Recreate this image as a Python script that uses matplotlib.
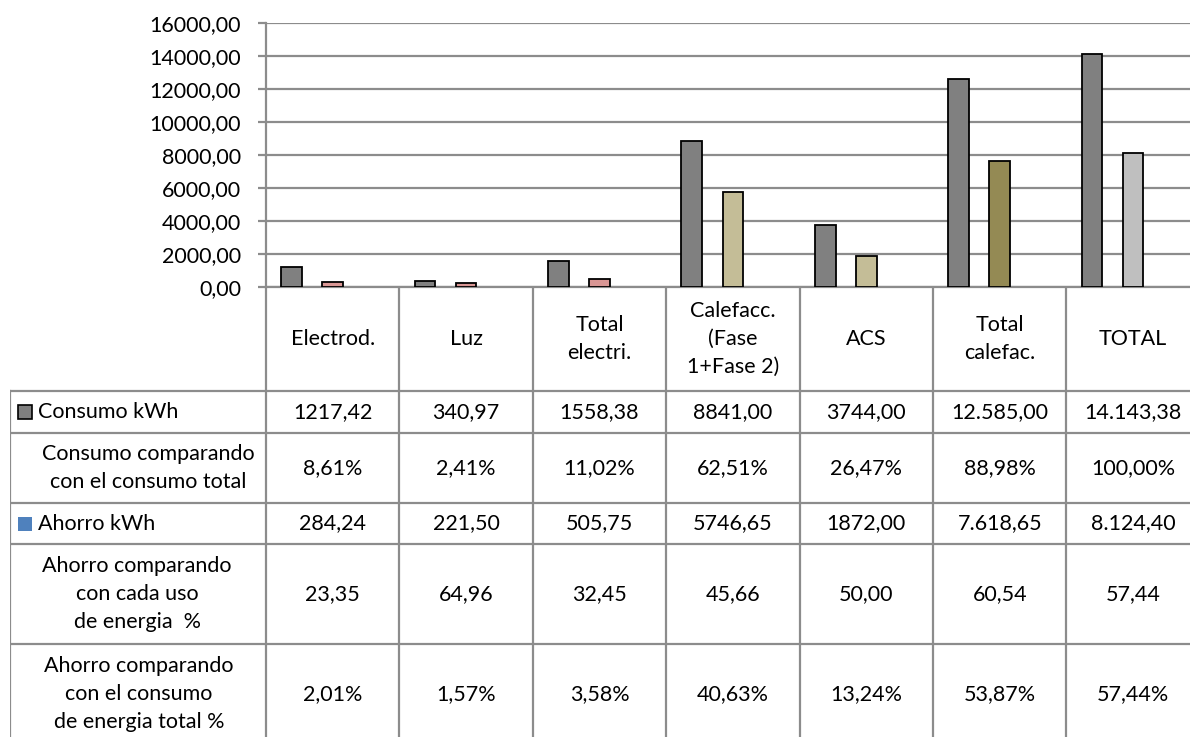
import matplotlib.pyplot as plt

# Consumo y ahorro energético por uso (kWh)
categorias = ["Electrod.", "Luz", "Total\nelectri.", "Calefacc.\n(Fase\n1+Fase 2)",
              "ACS", "Total\ncalefac.", "TOTAL"]
consumo_txt = ["1217,42", "340,97", "1558,38", "8841,00", "3744,00", "12.585,00", "14.143,38"]
consumo_pct = ["8,61%", "2,41%", "11,02%", "62,51%", "26,47%", "88,98%", "100,00%"]
ahorro_txt = ["284,24", "221,50", "505,75", "5746,65", "1872,00", "7.618,65", "8.124,40"]
ahorro_uso_pct = ["23,35", "64,96", "32,45", "45,66", "50,00", "60,54", "57,44"]
ahorro_total_pct = ["2,01%", "1,57%", "3,58%", "40,63%", "13,24%", "53,87%", "57,44%"]

filas = ["Consumo kWh",
         "Consumo comparando\ncon el consumo total",
         "Ahorro kWh",
         "Ahorro comparando\ncon cada uso\nde energia  %",
         "Ahorro comparando\ncon el consumo\nde energia total %"]

yticks = [0, 2000, 4000, 6000, 8000, 10000, 12000, 14000, 16000]


def a_numero(s):
    # "12.585,00" -> 12585.0
    return float(s.replace(".", "").replace(",", "."))


consumo = [a_numero(s) for s in consumo_txt]
ahorro = [a_numero(s) for s in ahorro_txt]

# colores
GRIS = "#808080"
col_ahorro = ["#D99694", "#D99694", "#D99694", "#C4BD97", "#C4BD97", "#948A54", "#BFBFBF"]
AZUL = "#4F81BD"
LINEA = "#8C8C8C"

plt.rcParams["font.family"] = ["Lato", "DejaVu Sans"]
FS = 15.5
LS = 1.5

W, H = 1190, 737
fig = plt.figure(figsize=(W / 100, H / 100), dpi=100)


def px_axes(x0, y0, x1, y1):
    return fig.add_axes([x0 / W, 1 - y1 / H, (x1 - x0) / W, (y1 - y0) / H])


# geometría en píxeles
X0, COL_W = 266, 133.4
Y_TOP, Y_ZERO = 23, 287
X_RIGHT = X0 + COL_W * len(categorias)
ALTOS = [104, 42, 70, 41, 100, 100]
bordes = [Y_ZERO]
for h in ALTOS:
    bordes.append(bordes[-1] + h)


def px2x(px):
    return -0.5 + (px - X0) / COL_W


# --- gráfico de columnas ---
ax = px_axes(X0, Y_TOP, X_RIGHT, Y_ZERO)
x = list(range(len(categorias)))
ax.bar([i - 0.308 for i in x], consumo, width=0.155, color=GRIS,
       edgecolor="black", linewidth=1.3, zorder=3)
ax.bar(x, ahorro, width=0.155, color=col_ahorro,
       edgecolor="black", linewidth=1.3, zorder=3)
ax.set_xlim(-0.5, len(categorias) - 0.5)
ax.set_ylim(0, 16000)
ax.set_yticks(yticks)
ax.set_yticklabels([f"{v},00" for v in yticks], fontsize=FS)
ax.yaxis.grid(True, color=LINEA, linewidth=1.6, zorder=0)
ax.set_xticks([])
for s in ["top", "right"]:
    ax.spines[s].set_visible(False)
for s in ["left", "bottom"]:
    ax.spines[s].set_color(LINEA)
    ax.spines[s].set_linewidth(1.6)
ax.tick_params(axis="y", length=6, width=1.6, color=LINEA, pad=12)

# --- tabla de datos ---
tb = px_axes(10, Y_ZERO, X_RIGHT, bordes[-1])
tb.set_xlim(px2x(10), len(categorias) - 0.5)
tb.set_ylim(bordes[-1], Y_ZERO)
tb.axis("off")

for k in range(len(categorias) + 1):
    tb.plot([k - 0.5, k - 0.5], [Y_ZERO, bordes[-1]], color=LINEA, lw=1.6)
tb.plot([px2x(10), px2x(10)], [bordes[1], bordes[-1]], color=LINEA, lw=1.6)
for b in bordes[1:]:
    tb.plot([px2x(10), len(categorias) - 0.5], [b, b], color=LINEA, lw=1.6)

centros = [(bordes[i] + bordes[i + 1]) / 2 for i in range(len(ALTOS))]

for i, c in enumerate(categorias):
    tb.text(i, centros[0], c, ha="center", va="center", fontsize=FS, linespacing=LS)

valores = [consumo_txt, consumo_pct, ahorro_txt, ahorro_uso_pct, ahorro_total_pct]
for r, fila in enumerate(valores):
    for i, v in enumerate(fila):
        tb.text(i, centros[r + 1], v, ha="center", va="center", fontsize=FS)

# encabezados de fila con clave de leyenda
tb.plot([px2x(25)], [centros[1]], marker="s", ms=10, mfc=GRIS, mec="black", mew=1.2)
tb.text(px2x(38), centros[1], filas[0], ha="left", va="center", fontsize=FS)
tb.text(px2x(148), centros[2], filas[1], ha="center", va="center", fontsize=FS, linespacing=LS)
tb.plot([px2x(25)], [centros[3]], marker="s", ms=10, mfc=AZUL, mec=AZUL, mew=0)
tb.text(px2x(38), centros[3], filas[2], ha="left", va="center", fontsize=FS)
tb.text(px2x(137), centros[4], filas[3], ha="center", va="center", fontsize=FS, linespacing=LS)
tb.text(px2x(139), centros[5], filas[4], ha="center", va="center", fontsize=FS, linespacing=LS)

fig.savefig("out.png", dpi=100)
